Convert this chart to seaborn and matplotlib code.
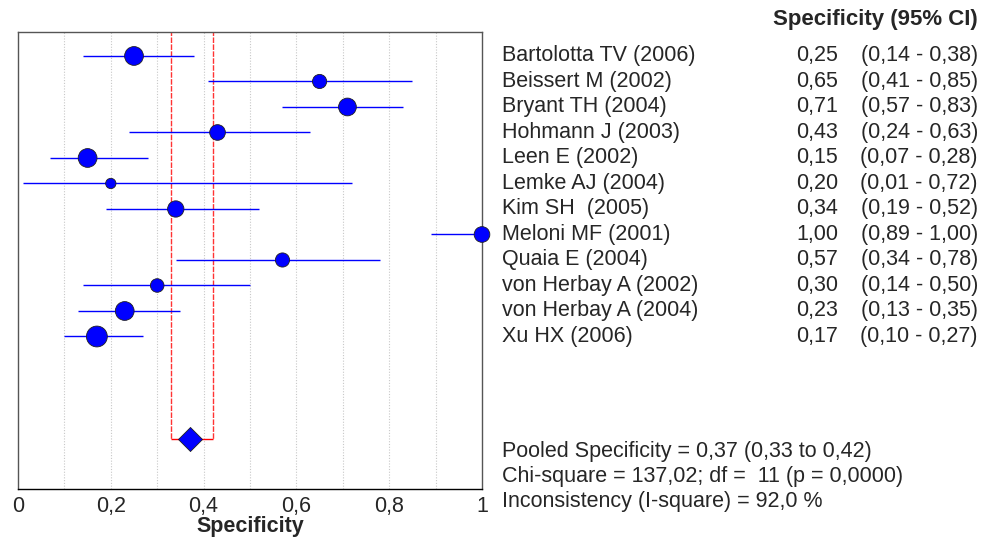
import matplotlib
matplotlib.use("Agg")
import matplotlib.pyplot as plt
import matplotlib.transforms as mtransforms
import seaborn as sns
import pandas as pd

# study data
studies = ["Bartolotta TV (2006)", "Beissert M (2002)", "Bryant TH (2004)",
           "Hohmann J (2003)", "Leen E (2002)", "Lemke AJ (2004)",
           "Kim SH  (2005)", "Meloni MF (2001)", "Quaia E (2004)",
           "von Herbay A (2002)", "von Herbay A (2004)", "Xu HX (2006)"]
spec = [0.25, 0.65, 0.71, 0.43, 0.15, 0.20, 0.34, 1.00, 0.57, 0.30, 0.23, 0.17]
ci_low = [0.14, 0.41, 0.57, 0.24, 0.07, 0.01, 0.19, 0.89, 0.34, 0.14, 0.13, 0.10]
ci_high = [0.38, 0.85, 0.83, 0.63, 0.28, 0.72, 0.52, 1.00, 0.78, 0.50, 0.35, 0.27]
weights = [90, 53, 81, 64, 90, 30, 69, 64, 53, 49, 90, 110]

pooled = 0.37
pooled_low = 0.33
pooled_high = 0.42

stats_lines = ["Pooled Specificity = 0,37 (0,33 to 0,42)",
               "Chi-square = 137,02; df =  11 (p = 0,0000)",
               "Inconsistency (I-square) = 92,0 %"]

def comma(v):
    return f"{v:.2f}".replace(".", ",")

df = pd.DataFrame({"study": studies, "spec": spec, "lo": ci_low,
                   "hi": ci_high, "w": weights})
df["row"] = range(len(df))
pooled_row = 15

sns.set_style("white")
plt.rcParams["font.family"] = ["Liberation Sans", "DejaVu Sans"]
fs = 15.5

fig = plt.figure(figsize=(9.87, 5.4), dpi=100)
ax = fig.add_axes([18 / 987, 51 / 540, 464 / 987, 457 / 540])

# grid
for g in [0.1, 0.2, 0.3, 0.4, 0.5, 0.6, 0.7, 0.8, 0.9]:
    ax.axvline(g, color="#c8c8c8", lw=0.8, ls=(0, (1, 1.5)), zorder=0)

# pooled CI box
ax.vlines([pooled_low, pooled_high], -1, pooled_row, color="#ff0000", lw=1.0,
          ls=(0, (4, 1)), alpha=0.8, zorder=1)
ax.hlines(pooled_row, pooled_low, pooled_high, color="#ff0000", lw=1.0, zorder=1)

# CI lines
ax.hlines(df["row"], df["lo"], df["hi"], color="blue", lw=1.0, zorder=2)

sns.scatterplot(data=df, x="spec", y="row", size="w", sizes=(55, 225),
                size_norm=(30, 110), color="blue", edgecolor="#202020",
                linewidth=0.6, legend=False, ax=ax, zorder=3, clip_on=False)
sns.scatterplot(x=[pooled], y=[pooled_row], marker="D", s=150, color="blue",
                edgecolor="#202020", linewidth=0.6, ax=ax, zorder=3)

ax.set_xlim(0, 1)
ax.set_ylim(16.98, -0.94)
ax.set_yticks([])
ax.set_ylabel("")
ax.set_xticks([0, 0.2, 0.4, 0.6, 0.8, 1.0])
ax.set_xticklabels(["0", "0,2", "0,4", "0,6", "0,8", "1"], fontsize=fs)
ax.tick_params(axis="x", length=4, width=0.8, color="black", pad=1)
ax.set_xlabel("Specificity", fontsize=fs, fontweight="bold", labelpad=-1)
for side in ["left", "top", "right"]:
    ax.spines[side].set_color("#555555")
    ax.spines[side].set_linewidth(1.0)
ax.spines["bottom"].set_color("black")
ax.spines["bottom"].set_linewidth(1.0)

# right-hand table
tr = mtransforms.blended_transform_factory(fig.transFigure, ax.transData)
fig.text(978 / 987, 1 - 20 / 540, "Specificity (95% CI)", ha="right",
         va="center", fontsize=fs + 0.5, fontweight="bold")
for i, row in df.iterrows():
    ax.text(502 / 987, row["row"], row["study"], transform=tr, ha="left",
            va="center", fontsize=fs, clip_on=False)
    ax.text(838 / 987, row["row"], comma(row["spec"]), transform=tr,
            ha="right", va="center", fontsize=fs, clip_on=False)
    ax.text(978 / 987, row["row"],
            f"({comma(row['lo'])} - {comma(row['hi'])})", transform=tr,
            ha="right", va="center", fontsize=fs, clip_on=False)

for j, line in enumerate(stats_lines):
    fig.text(502 / 987, 1 - (451 + j * 25.5) / 540, line, ha="left",
             va="center", fontsize=fs)

fig.savefig("out.png", dpi=100)
